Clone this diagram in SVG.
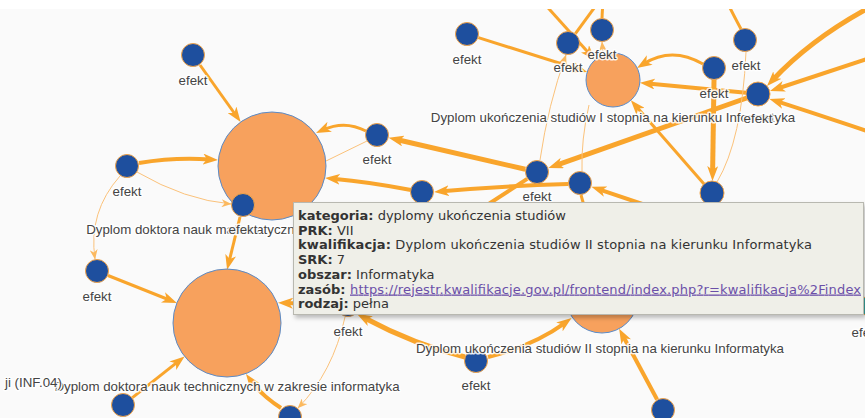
<svg xmlns="http://www.w3.org/2000/svg" width="865" height="418" viewBox="0 0 865 418">
<defs>
<style>
.e{fill:none;stroke:#f9a52c}
.w3{stroke-width:3}
.w4{stroke-width:4}
.w5{stroke-width:5}
.t{fill:none;stroke:#fbc27a;stroke-width:1}
.b{fill:#1e4f9e;stroke:#f5a445;stroke-width:1}
.o{fill:#f7a15d;stroke:#5a8bc8;stroke-width:1}
.l{font-family:"Liberation Sans",Arial,sans-serif;font-size:13.3px;fill:#444;text-anchor:middle;stroke:#fff;stroke-width:3px;stroke-opacity:.85;paint-order:stroke;stroke-linejoin:round}
.tt{font-family:"DejaVu Sans",Verdana,sans-serif;font-size:13px;fill:#333}
.k{font-weight:bold}
.u{fill:#6b4fa8;text-decoration:underline}
</style>
<marker id="a" viewBox="0 0 15 11" refX="7" refY="5.5" markerWidth="15" markerHeight="11" markerUnits="userSpaceOnUse" orient="auto"><path d="M0,0 L15,5.5 L0,11 L4,5.5 Z" fill="#f9a52c"/></marker>
<marker id="s" viewBox="0 0 10 8" refX="9.5" refY="4" markerWidth="10" markerHeight="8" markerUnits="userSpaceOnUse" orient="auto"><path d="M0,0 L10,4 L0,8 L3,4 Z" fill="#fbb95f"/></marker>
<clipPath id="c"><rect x="0" y="9" width="865" height="409"/></clipPath>
<filter id="sh" x="-5%" y="-10%" width="115%" height="130%"><feDropShadow dx="2" dy="3" stdDeviation="2" flood-color="#000" flood-opacity="0.25"/></filter>
</defs>
<rect x="0" y="0" width="865" height="418" fill="#ffffff"/>
<rect x="0" y="9" width="865" height="409" fill="#fafafa"/>
<g clip-path="url(#c)">
<g id="connectors">
<path class="e w3" d="M200,65 L236,115.5" marker-end="url(#a)"/>
<path class="e w4" d="M139,163 Q175,157 210,159.5" marker-end="url(#a)"/>
<path class="t" d="M137,172 Q185,200 231,204" marker-end="url(#s)"/>
<path class="t" d="M120,176 Q88,212 95,259" marker-end="url(#s)"/>
<path class="e w3" d="M108,275.5 L169.5,300" marker-end="url(#a)"/>
<path class="e w3" d="M240,217 L229,262" marker-end="url(#a)"/>
<path class="e w3" d="M132.4,397.6 L178.3,361.4" marker-end="url(#a)"/>
<path class="e w4" d="M281,408 Q262,396 250.7,380.5" marker-end="url(#a)"/>
<path class="e w3" d="M366,131 Q345,120 323.3,129.7" marker-end="url(#a)"/>
<path class="t" d="M367,141 L326,161"/>
<path class="e w5" d="M525.3,169.3 L396.5,139.5" marker-end="url(#a)"/>
<path class="e w4" d="M411,190 Q370,182 333,178.7" marker-end="url(#a)"/>
<path class="e w4" d="M568,184 Q500,186 442,191.3" marker-end="url(#a)"/>
<path class="e w4" d="M527.2,178.9 L345,297"/>
<path class="e w5" d="M746.7,98 L555.9,165.3" marker-end="url(#a)"/>
<path class="t" d="M540,160 Q548,105 566,55" marker-end="url(#s)"/>
<path class="t" d="M589,105 Q581,140 582,171"/>
<path class="e w3" d="M703,64 Q672,46 643.8,63.7" marker-end="url(#a)"/>
<path class="e w4" d="M746,92.8 L647.9,83.4" marker-end="url(#a)"/>
<path class="e w5" d="M714,80 L712.6,173" marker-end="url(#a)"/>
<path class="t" d="M746,52 Q742,140 717,182"/>
<path class="e w3" d="M726,0 Q735,18 741,29"/>
<path class="e w5" d="M880,2 Q815,35 772.5,80.2" marker-end="url(#a)"/>
<path class="e w4" d="M870,58 L777.6,88.5" marker-end="url(#a)"/>
<path class="e w4" d="M870,132 Q810,112 777.1,101.4" marker-end="url(#a)"/>
<path class="e w3" d="M704,184 L636.1,106.3" marker-end="url(#a)"/>
<path class="e w4" d="M690,220 L599,189.4" marker-end="url(#a)"/>
<path class="e w3" d="M581,195 L600,262"/>
<path class="e w3" d="M541,0 L589.6,54" marker-end="url(#a)"/>
<path class="e w3" d="M600,0 L575.4,33.6"/>
<path class="e w3" d="M603,0 L602,18"/>
<path class="t" d="M603,53 L602,42" marker-end="url(#s)"/>
<path class="e w3" d="M478.4,37.6 L579.6,69.5" marker-end="url(#a)"/>
<path class="e w4" d="M488,357 Q533,346 565.1,322.8" marker-end="url(#a)"/>
<path class="e w5" d="M465,357 Q415,345 364.1,317.8" marker-end="url(#a)"/>
<path class="t" d="M345,317 Q333,372 298,408" marker-end="url(#s)"/>
<path class="e w4" d="M337,305 L286,303" marker-end="url(#a)"/>
<path class="e w4" d="M657.1,399.5 L622.9,335.7" marker-end="url(#a)"/>
</g>
<g id="O1"><circle class="o" cx="272" cy="166" r="54"/></g>
<g id="O2"><circle class="o" cx="227" cy="323" r="54"/></g>
<g id="O3"><circle class="o" cx="613" cy="80" r="27"/></g>
<g id="O4"><circle class="o" cx="602" cy="297" r="36"/></g>
<g id="B1"><circle class="b" cx="193" cy="55" r="11.5"/></g>
<g id="B2"><circle class="b" cx="127" cy="166" r="11.5"/></g>
<g id="B3"><circle class="b" cx="243" cy="205" r="11.5"/></g>
<g id="B4"><circle class="b" cx="97" cy="271" r="11.5"/></g>
<g id="B5"><circle class="b" cx="123" cy="405" r="11.5"/></g>
<g id="B6"><circle class="b" cx="290" cy="417" r="11.5"/></g>
<g id="B7"><circle class="b" cx="467" cy="34" r="11.5"/></g>
<g id="B8"><circle class="b" cx="568" cy="43" r="11.5"/></g>
<g id="B9"><circle class="b" cx="602" cy="30" r="11.5"/></g>
<g id="B10"><circle class="b" cx="377" cy="135" r="11.5"/></g>
<g id="B11"><circle class="b" cx="537" cy="172" r="11.5"/></g>
<g id="B12"><circle class="b" cx="580" cy="183" r="11.5"/></g>
<g id="B13"><circle class="b" cx="422" cy="192" r="11.5"/></g>
<g id="B14"><circle class="b" cx="714" cy="68" r="11.5"/></g>
<g id="B15"><circle class="b" cx="745" cy="40" r="11.5"/></g>
<g id="B16"><circle class="b" cx="758" cy="94" r="12"/></g>
<g id="B17"><circle class="b" cx="712" cy="193" r="12"/></g>
<g id="B18"><circle class="b" cx="476" cy="361" r="11.5"/></g>
<g id="B19"><circle class="b" cx="663" cy="410" r="11.5"/></g>
<g id="B20"><circle class="b" cx="348" cy="305" r="11.5"/></g>
<g id="B21"><circle cx="872" cy="306" r="11.5" fill="#3aa8a0" stroke="#f5a445"/></g>
<g id="labels">
<text class="l" x="268" y="234">Dyplom doktora nauk matematycznych w zakresie informatyki</text>
<text class="l" x="227" y="391">Dyplom doktora nauk technicznych w zakresie informatyka</text>
<text class="l" x="613" y="122">Dyplom ukończenia studiów I stopnia na kierunku Informatyka</text>
<text class="l" x="600" y="353">Dyplom ukończenia studiów II stopnia na kierunku Informatyka</text>
<text class="l" x="5" y="387" style="text-anchor:start">ji (INF.04)</text>
<text class="l" x="193" y="85">efekt</text>
<text class="l" x="127" y="196">efekt</text>
<text class="l" x="243" y="234">efekt</text>
<text class="l" x="97" y="301">efekt</text>
<text class="l" x="467" y="64">efekt</text>
<text class="l" x="568" y="72">efekt</text>
<text class="l" x="602" y="59">efekt</text>
<text class="l" x="377" y="164">efekt</text>
<text class="l" x="537" y="201">efekt</text>
<text class="l" x="714" y="98">efekt</text>
<text class="l" x="746" y="70">efekt</text>
<text class="l" x="758" y="123">efekt</text>
<text class="l" x="476" y="390">efekt</text>
<text class="l" x="348" y="336">efekt</text>
<text class="l" x="866" y="337">efekt</text>
</g>
</g>
<g id="tooltip">
<rect x="293.5" y="202.5" width="570" height="112" fill="#efefe8" stroke="#b8b8b0" stroke-width="1" filter="url(#sh)"/>
<text class="tt" x="298" y="220"><tspan class="k">kategoria:</tspan> dyplomy ukończenia studiów</text>
<text class="tt" x="298" y="234.7"><tspan class="k">PRK:</tspan> VII</text>
<text class="tt" x="298" y="249.4" textLength="514" lengthAdjust="spacing"><tspan class="k">kwalifikacja:</tspan> Dyplom ukończenia studiów II stopnia na kierunku Informatyka</text>
<text class="tt" x="298" y="264.1"><tspan class="k">SRK:</tspan> 7</text>
<text class="tt" x="298" y="278.8"><tspan class="k">obszar:</tspan> Informatyka</text>
<text class="tt" x="298" y="293.5"><tspan class="k">zasób:</tspan> <tspan class="u" x="350" textLength="511" lengthAdjust="spacing">https://rejestr.kwalifikacje.gov.pl/frontend/index.php?r=kwalifikacja%2Findex</tspan></text>
<text class="tt" x="298" y="308.2"><tspan class="k">rodzaj:</tspan> pełna</text>
</g>
</svg>
